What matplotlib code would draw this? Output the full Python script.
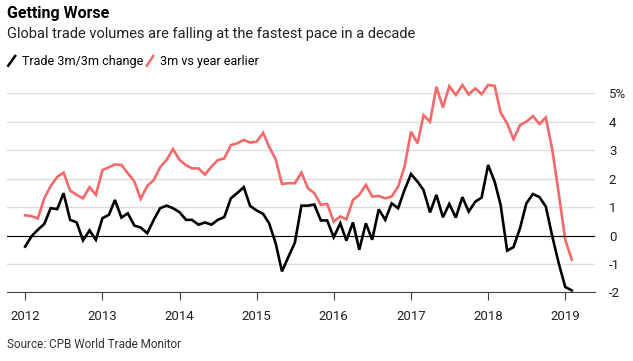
import numpy as np
import pandas as pd
import matplotlib
matplotlib.use("Agg")
import matplotlib.pyplot as plt
from matplotlib.lines import Line2D

plt.rcParams['font.family'] = ['Roboto', 'DejaVu Sans']

months = pd.date_range('2012-01-01', periods=86, freq='MS')

trade_3m3m = [
    -0.39, -0.02, 0.20, 0.41, 0.96, 0.93, 1.49, 0.55, 0.46, -0.17, 0.18, -0.15,
    0.61, 0.73, 1.25, 0.63, 0.78, 0.35, 0.28, 0.08, 0.55, 0.96, 1.05, 0.96,
    0.82, 0.55, 0.55, 0.38, 0.46, 0.38, 0.55, 0.65, 1.31, 1.49, 1.70, 1.04,
    0.88, 0.76, 0.43, -0.27, -1.26, -0.74, -0.25, 1.05, 1.05, 1.09, 0.53, 0.53,
    -0.06, 0.43, -0.18, 0.46, -0.50, 0.43, -0.15, 0.92, 0.55, 1.13, 0.96, 1.60,
    2.16, 1.89, 1.60, 0.81, 1.43, 0.64, 1.11, 0.63, 1.35, 0.84, 1.19, 1.33,
    2.48, 1.89, 1.08, -0.53, -0.41, 0.26, 1.13, 1.46, 1.35, 1.02, -0.04, -0.97,
    -1.81, -1.93,
]

yoy_3m = [
    0.71, 0.68, 0.60, 1.31, 1.74, 2.06, 2.21, 1.58, 1.43, 1.31, 1.70, 1.43,
    2.30, 2.40, 2.50, 2.48, 2.19, 1.90, 1.29, 1.74, 1.95, 2.40, 2.66, 3.04,
    2.66, 2.47, 2.36, 2.36, 2.14, 2.42, 2.65, 2.71, 3.18, 3.24, 3.36, 3.27,
    3.30, 3.61, 3.12, 2.68, 1.81, 1.84, 1.84, 2.21, 1.66, 1.49, 1.08, 1.11,
    0.49, 0.67, 0.57, 1.25, 1.43, 1.78, 1.37, 1.39, 1.31, 1.37, 1.72, 2.42,
    3.65, 3.24, 4.23, 4.00, 5.23, 4.50, 5.25, 4.94, 5.29, 4.96, 5.17, 4.97,
    5.29, 5.26, 4.32, 3.94, 3.39, 3.88, 4.00, 4.20, 3.92, 4.15, 3.00, 1.49,
    -0.15, -0.85,
]

years = [2012, 2013, 2014, 2015, 2016, 2017, 2018, 2019]
yticks = [-2, -1, 0, 1, 2, 3, 4, 5]
ylabels = ['-2', '-1', '0', '1', '2', '3', '4', '5%']

red = '#f46a6a'

fig = plt.figure(figsize=(6.33, 3.61), dpi=100)
ax = fig.add_axes([0.011, 0.19, 0.929, 0.591])

ax.plot(months, yoy_3m, color=red, lw=1.9, solid_joinstyle='miter')
ax.plot(months, trade_3m3m, color='black', lw=1.9, solid_joinstyle='miter')

ax.set_ylim(-2, 5.5)
ax.set_xlim(pd.Timestamp('2011-10-07'), pd.Timestamp('2019-05-22'))
ax.set_yticks(yticks)
ax.set_yticklabels(ylabels)
ax.yaxis.tick_right()
ax.tick_params(axis='y', length=0, pad=10, labelsize=9.5, labelcolor='#222222')
ax.grid(axis='y', color='#dddddd', lw=1)
ax.axhline(0, color='black', lw=0.8)

ax.set_xticks([pd.Timestamp(f'{y}-01-01') for y in years])
ax.set_xticklabels([str(y) for y in years])
ax.tick_params(axis='x', length=6, width=0.8, color='#444444', pad=7,
               labelsize=9.5, labelcolor='#222222')

for s in ['top', 'left', 'right']:
    ax.spines[s].set_visible(False)
ax.spines['bottom'].set_color('#444444')
ax.spines['bottom'].set_linewidth(0.8)
ax.set_axisbelow(True)

fig.text(0.011, 0.963, 'Getting Worse', fontsize=11.5, fontweight='bold',
         va='center', ha='left')
fig.text(0.011, 0.905, 'Global trade volumes are falling at the fastest pace in a decade',
         fontsize=10.5, va='center', ha='left', color='#222222')

fig.add_artist(Line2D([0.013, 0.024], [0.818, 0.845], color='black', lw=1.8,
                      transform=fig.transFigure))
fig.text(0.035, 0.831, 'Trade 3m/3m change', fontsize=9, va='center', ha='left')
fig.add_artist(Line2D([0.232, 0.242], [0.818, 0.845], color=red, lw=1.8,
                      transform=fig.transFigure))
fig.text(0.252, 0.831, '3m vs year earlier', fontsize=9, va='center', ha='left')

fig.text(0.011, 0.045, 'Source: CPB World Trade Monitor', fontsize=8.5,
         va='center', ha='left', color='#333333')

fig.savefig('out.png', dpi=100)
